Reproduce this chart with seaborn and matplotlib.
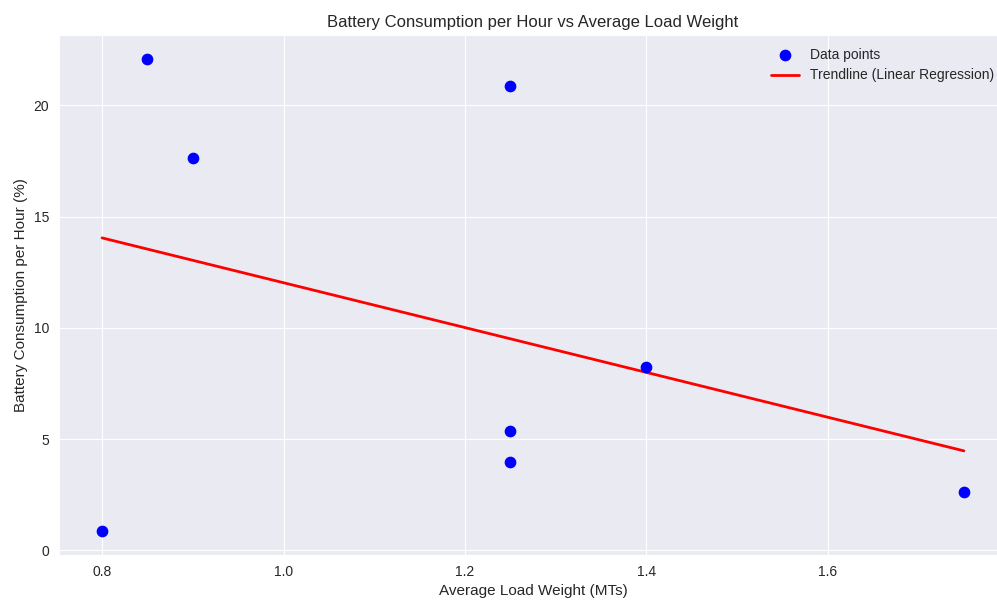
import numpy as np
import pandas as pd
import matplotlib
matplotlib.use("Agg")
import matplotlib.pyplot as plt
import seaborn as sns

load_weight = [0.8, 0.85, 0.9, 1.25, 1.25, 1.25, 1.4, 1.75]
battery_per_hour = [0.85, 22.1, 17.65, 20.85, 5.35, 3.95, 8.25, 2.6]

sns.set_style("darkgrid")
plt.rcParams['font.family'] = ['Liberation Sans', 'DejaVu Sans']
plt.rcParams['text.color'] = '.15'
plt.rcParams['axes.labelcolor'] = '.15'
plt.rcParams['xtick.color'] = '.15'
plt.rcParams['ytick.color'] = '.15'

df = pd.DataFrame({"x": load_weight, "y": battery_per_hour})
slope, intercept = np.polyfit(df["x"], df["y"], 1)
df["pred"] = slope * df["x"] + intercept

fig = plt.figure(figsize=(9.97, 6.0), dpi=100)
ax = fig.add_axes([59/997, 45/600, (1007-59)/997, (555-35)/600])

sns.scatterplot(data=df, x="x", y="y", ax=ax, color="blue", s=55,
                edgecolor="blue", linewidth=1, label="Data points", zorder=3)
sns.lineplot(data=df, x="x", y="pred", ax=ax, color="red", linewidth=2,
             estimator=None, sort=False, label="Trendline (Linear Regression)")

ax.set_xlim(0.7525, 1.7975)
ax.set_ylim(-0.2125, 23.1625)
ax.set_yticks([0, 5, 10, 15, 20])
ax.set_xticks([0.8, 1.0, 1.2, 1.4, 1.6])
ax.tick_params(labelsize=10)
ax.set_title("Battery Consumption per Hour vs Average Load Weight", fontsize=12)
ax.set_xlabel("Average Load Weight (MTs)", fontsize=11)
ax.set_ylabel("Battery Consumption per Hour (%)", fontsize=11)
ax.legend(loc="upper right", frameon=False, fontsize=10, borderaxespad=0.5)

fig.savefig("out.png", dpi=100)
